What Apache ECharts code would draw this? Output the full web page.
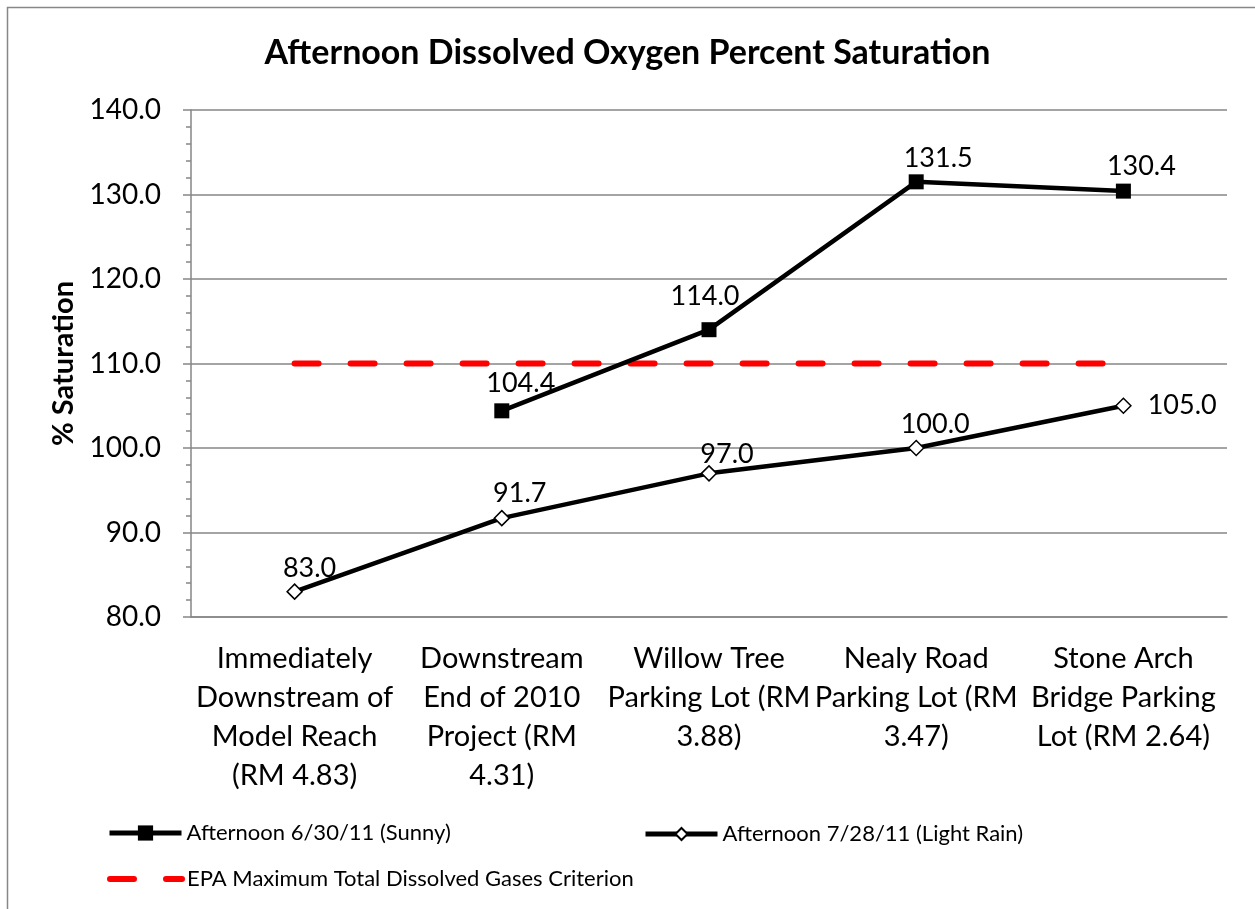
<!DOCTYPE html>
<html><head><meta charset="utf-8">
<script src="https://cdn.jsdelivr.net/npm/echarts@6/dist/echarts.min.js"></script>
<style>html,body{margin:0;padding:0;background:#fff}#c{width:1255px;height:909px}</style>
</head><body><div id="c"></div>
<script>
const categories = [
  "Immediately\nDownstream of\nModel Reach\n(RM 4.83)",
  "Downstream\nEnd of 2010\nProject (RM\n4.31)",
  "Willow Tree\nParking Lot (RM\n3.88)",
  "Nealy Road\nParking Lot (RM\n3.47)",
  "Stone Arch\nBridge Parking\nLot (RM 2.64)"
];
const sunny = [null, 104.4, 114.0, 131.5, 130.4];
const lightRain = [83.0, 91.7, 97.0, 100.0, 105.0];
const epaCriterion = [110, 110, 110, 110, 110];
const seriesNames = ["Afternoon 6/30/11 (Sunny)", "Afternoon 7/28/11 (Light Rain)", "EPA Maximum Total Dissolved Gases Criterion"];

// label placement tweaks (style only)
const sunnyLabelOffsets = [[0,0],[19,-3],[-4,-8],[22,1],[18,0]];
const rainLabelOffsets = [[15,2],[18,1],[18,7],[19,2],[0,0]];

const FONT = 'Lato';
const chart = echarts.init(document.getElementById('c'));
const lbl = {show:true, position:'top', distance:4, color:'#000', fontFamily:FONT, fontSize:27,
  formatter: p => p.value == null ? '' : Number(p.value).toFixed(1)};
const legendBase = {itemWidth:72, itemHeight:15, textStyle:{fontFamily:FONT, fontSize:22, color:'#000'}, selectedMode:false, padding:0, itemGap:4};
chart.setOption({
  animation:false,
  backgroundColor:'#fff',
  graphic:[{type:'rect', shape:{x:7.5, y:7.5, width:1400, height:1000}, style:{fill:'none', stroke:'#878787', lineWidth:1.5}, silent:true}],
  title:{text:'Afternoon Dissolved Oxygen Percent Saturation', left:'center', top:31,
    textStyle:{fontFamily:FONT, fontWeight:'bold', fontSize:34, color:'#000'}},
  grid:{left:191, right:28, top:110, bottom:292},
  legend:[
    Object.assign({}, legendBase, {data:[seriesNames[0]], left:107, top:822, itemHeight:19, lineStyle:{width:5}}),
    Object.assign({}, legendBase, {data:[seriesNames[1]], left:643, top:823, itemHeight:15, lineStyle:{width:5}}),
    Object.assign({}, legendBase, {data:[seriesNames[2]], left:107, top:868,
      lineStyle:{width:6, type:[24,32], cap:'round'}, itemStyle:{opacity:0}})
  ],
  xAxis:{type:'category', data:categories, boundaryGap:true,
    axisLine:{lineStyle:{color:'#868686', width:1.5}}, axisTick:{show:false},
    axisLabel:{fontFamily:FONT, fontSize:29, color:'#000', margin:22, lineHeight:39, interval:0}},
  yAxis:{type:'value', min:80, max:140, interval:10,
    name:'% Saturation', nameLocation:'middle', nameGap:112, nameRotate:90,
    nameTextStyle:{fontFamily:FONT, fontWeight:'bold', fontSize:29, color:'#000'},
    axisLine:{show:true, lineStyle:{color:'#868686', width:1.5}},
    axisTick:{show:true, length:8, lineStyle:{color:'#868686', width:1.5}},
    minorTick:{show:true, splitNumber:5, length:5, lineStyle:{color:'#868686', width:1.5}},
    splitLine:{lineStyle:{color:'#868686', width:1.5}},
    axisLabel:{fontFamily:FONT, fontSize:28, color:'#000', margin:30, formatter: v => v.toFixed(1)}},
  series:[
    {name:seriesNames[0], type:'line', symbol:'rect', symbolSize:15,
      lineStyle:{color:'#000', width:4.5}, itemStyle:{color:'#000'}, label:lbl, z:3,
      data: sunny.map((v,i)=>({value:v, label:{offset:sunnyLabelOffsets[i]}}))},
    {name:seriesNames[1], type:'line', symbol:'diamond', symbolSize:15,
      lineStyle:{color:'#000', width:4.5}, itemStyle:{color:'#fff', borderColor:'#000', borderWidth:1.5},
      label:lbl, z:3,
      data: lightRain.map((v,i)=> i===lightRain.length-1
        ? {value:v, label:{position:'right', distance:16}}
        : {value:v, label:{offset:rainLabelOffsets[i]}})},
    {name:seriesNames[2], type:'line', data:epaCriterion, symbol:'none',
      lineStyle:{color:'#ff0000', width:6, type:[24,32], cap:'round'}, itemStyle:{color:'#ff0000'}, z:2}
  ]
});
</script></body></html>
